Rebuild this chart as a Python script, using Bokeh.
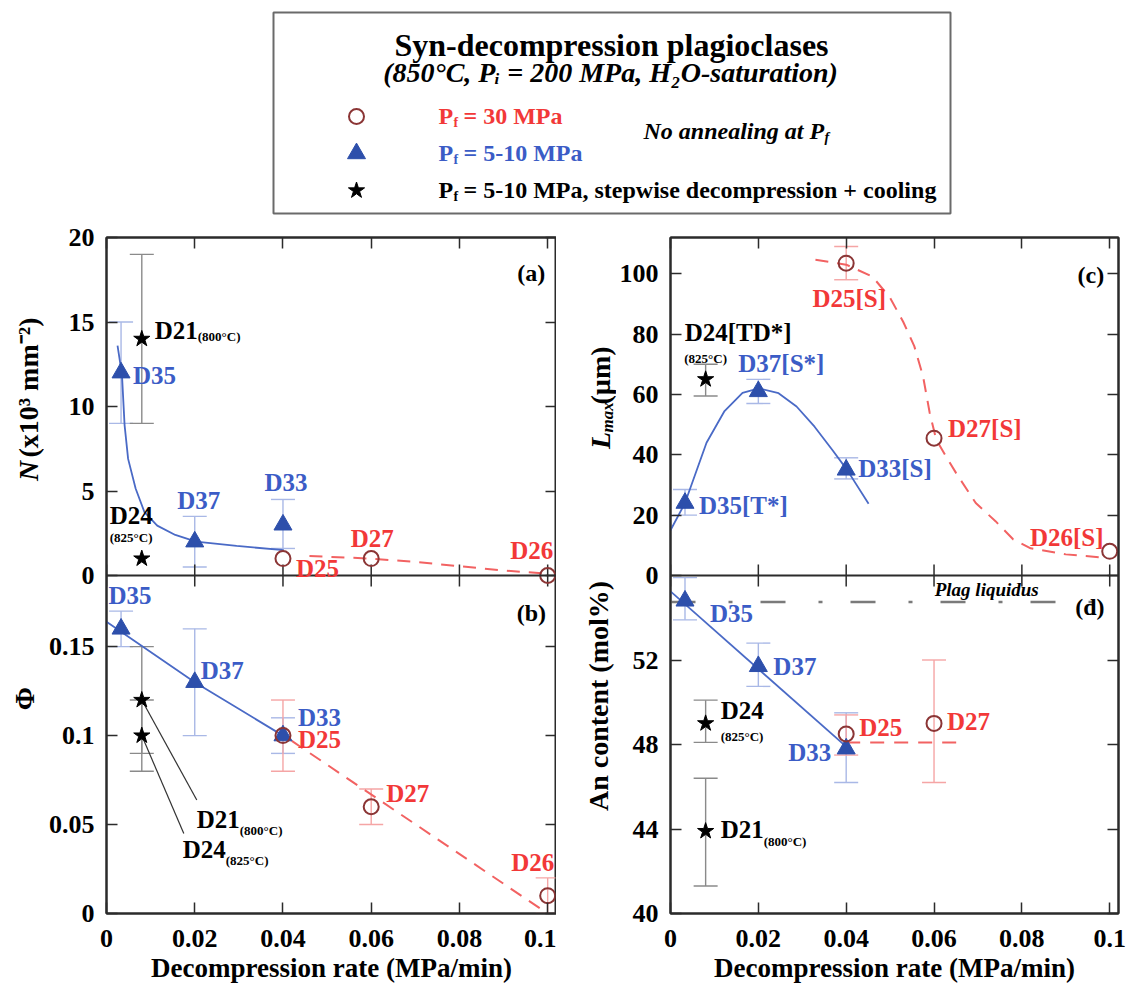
import math
from bokeh.plotting import figure
from bokeh.models import (Range1d, LinearAxis, FixedTicker, CustomJSTickFormatter,
                          ColumnDataSource, Whisker, TeeHead, Label, Span)
from bokeh.layouts import column, row
from bokeh.embed import file_html
from bokeh.resources import INLINE
from bokeh.core.properties import value

# ---------------------------------------------------------------- data
tri_names = ["D35", "D37", "D33"]          # Pf = 5-10 MPa
tri_rate = [0.0033, 0.02, 0.04]
circ_names = ["D25", "D27", "D26"]         # Pf = 30 MPa
circ_rate = [0.04, 0.06, 0.1]
star_names = ["D21", "D24"]                # stepwise decompression + cooling
star_rate = [0.008, 0.008]

x_ticks = [0, 0.02, 0.04, 0.06, 0.08, 0.1]

# (a) N (x10^3 mm^-2)
N_tri = [12.0, 2.0, 3.0]
N_tri_lo = [9.0, 0.5, 1.6]
N_tri_hi = [15.0, 3.5, 4.5]
N_circ = [1.0, 1.0, 0.0]
N_star = [14.0, 1.0]
N_star_err_rate = [0.008]
N_star_lo = [9.0]
N_star_hi = [19.0]
N_fit_tri_x = [0.0025, 0.0035, 0.0041, 0.0049, 0.0066, 0.0086, 0.0115, 0.0156, 0.0203, 0.0295, 0.0402]
N_fit_tri_y = [13.6, 11.9, 8.9, 6.9, 5.15, 3.75, 2.95, 2.4, 2.0, 1.75, 1.5]
N_fit_circ_x = [0.046, 0.06, 0.07, 0.08, 0.09, 0.1]
N_fit_circ_y = [1.15, 1.0, 0.8, 0.55, 0.3, 0.1]
N_ticks = [0, 5, 10, 15, 20]

# (b) Phi
phi_tri = [0.16, 0.13, 0.10]
phi_tri_lo = [0.15, 0.10, 0.09]
phi_tri_hi = [0.17, 0.16, 0.11]
phi_circ = [0.10, 0.06, 0.01]
phi_circ_lo = [0.08, 0.05, 0.0]
phi_circ_hi = [0.12, 0.07, 0.02]
phi_star = [0.12, 0.10]
phi_star_lo = [0.09, 0.08]
phi_star_hi = [0.15, 0.12]
phi_fit_tri_x = [0.0, 0.02, 0.04]
phi_fit_tri_y = [0.164, 0.130, 0.100]
phi_fit_circ_x = [0.042, 0.1]
phi_fit_circ_y = [0.097, 0.0]
phi_ticks = [0, 0.05, 0.1, 0.15]

# (c) Lmax (um)
L_tri = [24.0, 61.0, 35.0]
L_tri_lo = [20.0, 57.0, 32.0]
L_tri_hi = [28.5, 65.0, 39.0]
L_circ = [103.5, 45.5, 8.0]
L_circ_err_rate = [0.04]
L_circ_lo = [98.0]
L_circ_hi = [109.0]
L_star_rate = [0.008]                       # D24 only
L_star = [65.0]
L_star_lo = [59.5]
L_star_hi = [70.0]
L_fit_tri_x = [0.0, 0.0033, 0.0082, 0.0123, 0.0164, 0.0201, 0.0246, 0.0287, 0.0328, 0.0369, 0.0402, 0.0451]
L_fit_tri_y = [15.0, 24.0, 44.0, 54.5, 60.5, 62.0, 60.4, 56.0, 49.3, 41.5, 35.0, 23.8]
L_fit_circ_x = [0.033, 0.04, 0.046, 0.05, 0.053, 0.0555, 0.0575, 0.059, 0.0605, 0.0625,
                0.065, 0.0695, 0.074, 0.078, 0.082, 0.09, 0.098]
L_fit_circ_y = [104.6, 103.0, 99.0, 92.0, 84.0, 76.0, 66.0, 54.0, 45.0, 40.0,
                34.0, 24.0, 18.0, 12.0, 9.0, 7.0, 6.0]
L_ticks = [0, 20, 40, 60, 80, 100]

# (d) An content (mol%)
An_tri = [54.8, 51.7, 47.8]
An_tri_lo = [53.9, 50.75, 46.2]
An_tri_hi = [55.9, 52.8, 49.5]
An_circ_rate = [0.04, 0.06]                 # D25, D27
An_circ = [48.5, 49.0]
An_circ_lo = [47.5, 46.2]
An_circ_hi = [49.4, 52.0]
An_star = [43.9, 49.0]                      # D21, D24
An_star_lo = [41.3, 48.1]
An_star_hi = [46.4, 50.1]
An_fit_tri_x = [0.0, 0.04]
An_fit_tri_y = [55.25, 47.9]
An_fit_circ_x = [0.04, 0.067]
An_fit_circ_y = [48.1, 48.1]
An_liquidus_x = [0.0, 0.1]
An_liquidus_y = [54.75, 54.75]
An_ticks = [40, 44, 48, 52]

# axis extents
XMAX = 0.102
N_TOP = 20.0
PHI_TOP = 0.19
L_TOP = 112.0
AN_BOT, AN_TOP = 40.0, 56.0

# ---------------------------------------------------------------- style
SERIF = "Liberation Serif"
FRAME = "#2b2b2b"
BLUE_M = "#2d4fab"
BLUE_T = "#3b5cc6"
BLUE_L = "#4a6ac6"
BLUE_E = "#a9b8e6"
RED_T = "#f23838"
RED_L = "#f26262"
RED_E = "#f5a5a5"
CIRC = "#8b3535"
BLACK_E = "#8a8a8a"
GRAY = "#7a7a7a"

LEG_H = 215
H_FIG = 992 - LEG_H
MB_TOP, MB_BOT = 22, 79
FRAME_W = 450
HALF = (H_FIG - MB_TOP - MB_BOT) / 2
PXX = XMAX / FRAME_W
V = math.pi / 2

STRIP_L = 44
STRIP_R = 60
MBL_L = 62
MBL_R = 52


def style_axis(ax, ticks, labels, formatter=None):
    ax.ticker = FixedTicker(ticks=ticks)
    ax.major_tick_in = 11
    ax.major_tick_out = 0
    ax.minor_tick_in = 0
    ax.minor_tick_out = 0
    ax.axis_line_color = FRAME
    ax.axis_line_width = 2
    ax.major_tick_line_color = FRAME
    ax.major_tick_line_width = 1.5
    if labels:
        ax.formatter = formatter or CustomJSTickFormatter(code="return String(tick);")
        ax.major_label_text_font = SERIF
        ax.major_label_text_font_size = "26px"
        ax.major_label_text_font_style = "bold"
        ax.major_label_text_color = "black"
        ax.major_label_standoff = 12
    else:
        ax.formatter = CustomJSTickFormatter(code="return '';")
        ax.major_label_text_font_size = "0px"
        ax.major_label_standoff = 0


def split_formatter(split, scale):
    # ticks above `split` belong to the upper panel, whose range is scaled by `scale`
    return CustomJSTickFormatter(args=dict(split=split, scale=scale), code="""
        if (tick >= split - 1e-9) {
            return String(Math.round((tick - split) * scale * 1e6) / 1e6);
        }
        return String(Math.round(tick * 1e6) / 1e6);
    """)


def column_fig(width, mbl, mbr, lower, upper_name, upper_top, lower_ticks, upper_ticks):
    lo, split = lower
    span = split - lo
    p = figure(width=width, height=H_FIG, x_range=Range1d(0, XMAX),
               y_range=Range1d(lo, split + span),
               output_backend="svg", toolbar_location=None,
               min_border_left=mbl, min_border_right=mbr,
               min_border_top=MB_TOP, min_border_bottom=MB_BOT)
    p.extra_y_ranges = {upper_name: Range1d(-upper_top, upper_top)}
    p.xgrid.visible = False
    p.ygrid.visible = False
    p.outline_line_color = FRAME
    p.outline_line_width = 2
    p.background_fill_color = "white"
    p.border_fill_color = "white"
    scale = upper_top / span
    yt = list(lower_ticks) + [split + v / scale for v in upper_ticks]
    style_axis(p.below[0], x_ticks, True)
    ax = p.below[0]
    ax.axis_label = "Decompression rate (MPa/min)"
    ax.axis_label_text_font = SERIF
    ax.axis_label_text_font_size = "27px"
    ax.axis_label_text_font_style = "bold"
    ax.axis_label_text_color = "black"
    ax.axis_label_standoff = 3
    ax.major_label_standoff = 16
    style_axis(p.left[0], yt, True, split_formatter(split, scale))
    top = LinearAxis()
    style_axis(top, x_ticks, False)
    p.add_layout(top, "above")
    rgt = LinearAxis()
    style_axis(rgt, yt, False)
    p.add_layout(rgt, "right")
    # boundary between the two stacked panels, with inward ticks on both sides
    p.add_layout(Span(location=split, dimension="width", line_color=FRAME, line_width=2))
    p.scatter(x_ticks, [split] * len(x_ticks), marker="dash", angle=V, size=22,
              line_color=FRAME, line_width=1.5)
    return p


def errbars(p, xs, lo, hi, color, yr="default"):
    src = ColumnDataSource(dict(x=xs, lo=lo, hi=hi))
    p.add_layout(Whisker(base="x", lower="lo", upper="hi", source=src, y_range_name=yr,
                         line_color=color, line_width=1.4,
                         upper_head=TeeHead(size=24, line_color=color, line_width=1.4),
                         lower_head=TeeHead(size=24, line_color=color, line_width=1.4)))


def markers(p, xs, ys, kind, yr="default"):
    if kind == "tri":
        p.scatter(xs, ys, marker="triangle", size=18, fill_color=BLUE_M, line_color=BLUE_M,
                  y_range_name=yr)
    elif kind == "circ":
        p.scatter(xs, ys, marker="circle", size=15, fill_color=None, line_color=CIRC,
                  line_width=2, y_range_name=yr)
    else:
        p.scatter(xs, ys, marker="star", size=17, fill_color="black", line_color="black",
                  y_range_name=yr)


def lab(p, x, y, text, dx=0, dy=0, color="black", align="left", size=25,
        style="bold", yr="default"):
    p.add_layout(Label(x=x, y=y, x_offset=dx, y_offset=dy, text=text, text_color=color,
                       text_font=SERIF, text_font_size=f"{size}px", text_font_style=style,
                       text_align=align, text_baseline="middle", y_range_name=yr))


def blue_fit(p, xs, ys, yr="default"):
    p.line(xs, ys, line_color=BLUE_L, line_width=1.8, y_range_name=yr)


def red_fit(p, xs, ys, dash="13 9", yr="default"):
    p.line(xs, ys, line_color=RED_L, line_width=2, line_dash=dash, y_range_name=yr)


# ================================================================ left column: (a) over (b)
pL = column_fig(MBL_L + FRAME_W, MBL_L, 0, (0.0, PHI_TOP), "a", N_TOP, phi_ticks, N_ticks)
PYB = PHI_TOP / HALF

# ---- (a)
blue_fit(pL, N_fit_tri_x, N_fit_tri_y, yr="a")
red_fit(pL, N_fit_circ_x, N_fit_circ_y, yr="a")
errbars(pL, tri_rate, N_tri_lo, N_tri_hi, BLUE_E, yr="a")
errbars(pL, N_star_err_rate, N_star_lo, N_star_hi, BLACK_E, yr="a")
markers(pL, tri_rate, N_tri, "tri", yr="a")
markers(pL, circ_rate, N_circ, "circ", yr="a")
markers(pL, star_rate, N_star, "star", yr="a")
for x, y, t, dx, dy, c, al, s in [
        (tri_rate[0], N_tri[0], tri_names[0], 12, -3, BLUE_T, "left", 25),
        (tri_rate[1], N_tri[1], tri_names[1], 4, 41, BLUE_T, "center", 25),
        (tri_rate[2], N_tri[2], tri_names[2], 3, 42, BLUE_T, "center", 25),
        (circ_rate[0], N_circ[0], circ_names[0], 13, -10, RED_T, "left", 25),
        (circ_rate[1], N_circ[1], circ_names[1], 1, 20, RED_T, "center", 25),
        (circ_rate[2], N_circ[2], circ_names[2], -16, 25, RED_T, "center", 25),
        (star_rate[0], N_star[0], star_names[0], 13, 8, "black", "left", 25),
        (star_rate[0], N_star[0], "(800°C)", 56, 2, "black", "left", 13),
        (star_rate[1], N_star[1], star_names[1], -32, 43, "black", "left", 25),
        (star_rate[1], N_star[1], "(825°C)", -32, 21, "black", "left", 13)]:
    lab(pL, x, y, t, dx, dy, c, al, s, yr="a")
lab(pL, 0.0963, 17.9, "(a)", align="center", size=24, yr="a")

# ---- (b)
blue_fit(pL, phi_fit_tri_x, phi_fit_tri_y)
red_fit(pL, phi_fit_circ_x, phi_fit_circ_y)
errbars(pL, tri_rate, phi_tri_lo, phi_tri_hi, BLUE_E)
errbars(pL, circ_rate, phi_circ_lo, phi_circ_hi, RED_E)
errbars(pL, star_rate, phi_star_lo, phi_star_hi, BLACK_E)
lead = [(55, -100), (42, -98)]   # leader line ends, in px from each star
pL.segment(x0=star_rate, y0=phi_star,
           x1=[star_rate[i] + lead[i][0] * PXX for i in range(2)],
           y1=[phi_star[i] + lead[i][1] * PYB for i in range(2)],
           line_color="#333333", line_width=1.2)
markers(pL, tri_rate, phi_tri, "tri")
markers(pL, circ_rate, phi_circ, "circ")
markers(pL, star_rate, phi_star, "star")
for x, y, t, dx, dy, c, al, s in [
        (tri_rate[0], phi_tri[0], tri_names[0], 9, 33, BLUE_T, "center", 25),
        (tri_rate[1], phi_tri[1], tri_names[1], 6, 12, BLUE_T, "left", 25),
        (tri_rate[2], phi_tri[2], tri_names[2], 15, 18, BLUE_T, "left", 25),
        (circ_rate[0], phi_circ[0], circ_names[0], 15, -4, RED_T, "left", 25),
        (circ_rate[1], phi_circ[1], circ_names[1], 15, 13, RED_T, "left", 25),
        (circ_rate[2], phi_circ[2], circ_names[2], -15, 33, RED_T, "center", 25),
        (star_rate[0], phi_star[0], star_names[0], 55, -119, "black", "left", 25),
        (star_rate[0], phi_star[0], "(800°C)", 98, -130, "black", "left", 13),
        (star_rate[1], phi_star[1], star_names[1], 41, -114, "black", "left", 25),
        (star_rate[1], phi_star[1], "(825°C)", 84, -125, "black", "left", 13)]:
    lab(pL, x, y, t, dx, dy, c, al, s)
lab(pL, 0.0963, 0.169, "(b)", align="center", size=24)

# ================================================================ right column: (c) over (d)
pR = column_fig(MBL_R + FRAME_W + 12, MBL_R, 12, (AN_BOT, AN_TOP), "c", L_TOP, An_ticks, L_ticks)

# ---- (c)
blue_fit(pR, L_fit_tri_x, L_fit_tri_y, yr="c")
red_fit(pR, L_fit_circ_x, L_fit_circ_y, yr="c")
errbars(pR, tri_rate, L_tri_lo, L_tri_hi, BLUE_E, yr="c")
errbars(pR, L_circ_err_rate, L_circ_lo, L_circ_hi, RED_E, yr="c")
errbars(pR, L_star_rate, L_star_lo, L_star_hi, BLACK_E, yr="c")
markers(pR, tri_rate, L_tri, "tri", yr="c")
markers(pR, circ_rate, L_circ, "circ", yr="c")
markers(pR, L_star_rate, L_star, "star", yr="c")
for x, y, t, dx, dy, c, al, s in [
        (circ_rate[0], L_circ[0], "D25[S]", 3, -35, RED_T, "center", 25),
        (circ_rate[1], L_circ[1], "D27[S]", 14, 10, RED_T, "left", 25),
        (circ_rate[2], L_circ[2], "D26[S]", -43, 14, RED_T, "center", 25),
        (tri_rate[0], L_tri[0], "D35[T*]", 14, -2, BLUE_T, "left", 25),
        (tri_rate[1], L_tri[1], "D37[S*]", 23, 28, BLUE_T, "center", 25),
        (tri_rate[2], L_tri[2], "D33[S]", 12, 1, BLUE_T, "left", 25),
        (L_star_rate[0], L_star[0], "D24[TD*]", -21, 47, "black", "left", 25),
        (L_star_rate[0], L_star[0], "(825°C)", 0, 21, "black", "center", 13)]:
    lab(pR, x, y, t, dx, dy, c, al, s, yr="c")
lab(pR, 0.0957, 99.6, "(c)", align="center", size=24, yr="c")

# ---- (d)
pR.line(An_liquidus_x, An_liquidus_y, line_color=GRAY, line_width=2.5, line_dash="25 33 4 28")
blue_fit(pR, An_fit_tri_x, An_fit_tri_y)
red_fit(pR, An_fit_circ_x, An_fit_circ_y, dash="14 10")
errbars(pR, tri_rate, An_tri_lo, An_tri_hi, BLUE_E)
errbars(pR, An_circ_rate, An_circ_lo, An_circ_hi, RED_E)
errbars(pR, star_rate, An_star_lo, An_star_hi, BLACK_E)
markers(pR, tri_rate, An_tri, "tri")
markers(pR, An_circ_rate, An_circ, "circ")
markers(pR, star_rate, An_star, "star")
for x, y, t, dx, dy, c, al, s in [
        (tri_rate[0], An_tri[0], tri_names[0], 25, -13, BLUE_T, "left", 25),
        (tri_rate[1], An_tri[1], tri_names[1], 15, 0, BLUE_T, "left", 25),
        (tri_rate[2], An_tri[2], tri_names[2], -15, -4, BLUE_T, "right", 25),
        (An_circ_rate[0], An_circ[0], circ_names[0], 13, 6, RED_T, "left", 25),
        (An_circ_rate[1], An_circ[1], circ_names[1], 13, 2, RED_T, "left", 25),
        (star_rate[1], An_star[1], star_names[1], 15, 13, "black", "left", 25),
        (star_rate[1], An_star[1], "(825°C)", 15, -13, "black", "left", 13),
        (star_rate[0], An_star[0], star_names[0], 15, 2, "black", "left", 25),
        (star_rate[0], An_star[0], "(800°C)", 58, -10, "black", "left", 13)]:
    lab(pR, x, y, t, dx, dy, c, al, s)
lab(pR, 0.0955, 54.5, "(d)", align="center", size=24)
lab(pR, 0.072, 55.35, "Plag liquidus", align="center", size=19, style="bold italic")


# ================================================================ y-axis title strips
def strip(width, items):
    s = figure(width=width, height=H_FIG, x_range=Range1d(0, width), y_range=Range1d(0, H_FIG),
               x_axis_type=None, y_axis_type=None, min_border=0,
               toolbar_location=None, output_backend="svg")
    s.outline_line_color = None
    s.background_fill_color = "white"
    s.border_fill_color = "white"
    for x, page_y, txt, size, style, align, dx in items:
        s.text(x=[x], y=[992 - page_y], text=[txt], angle=V, x_offset=dx,
               text_font=value(SERIF), text_font_size=value(f"{size}px"),
               text_font_style=style, text_align=align, text_baseline="middle",
               text_color="black")
    return s


sL = strip(STRIP_L, [(28, 495, "N", 28, "bold italic", "left", 0),
                     (28, 468, "(x10³ mm⁻²)", 28, "bold", "left", 0),
                     (24, 745, "Φ", 28, "bold", "center", 0)])
sR = strip(STRIP_R, [(44, 458, "L", 28, "bold italic", "left", 0),
                     (44, 439, "max", 17, "bold italic", "left", 7),
                     (44, 407, "(µm)", 28, "bold", "left", 0),
                     (42, 742, "An content (mol%)", 28, "bold", "center", 0)])

# ================================================================ legend box
W_ALL = STRIP_L + MBL_L + FRAME_W + STRIP_R + MBL_R + FRAME_W + 12
leg = figure(width=W_ALL, height=LEG_H, x_range=Range1d(0, W_ALL), y_range=Range1d(LEG_H, 0),
             x_axis_type=None, y_axis_type=None, output_backend="svg", toolbar_location=None,
             min_border=0)
leg.outline_line_color = None
leg.background_fill_color = "white"
leg.border_fill_color = "white"
leg.quad(left=[273], right=[950], top=[12], bottom=[213], fill_color=None,
         line_color="#6a6a6a", line_width=2)
lab(leg, 611, 44, "Syn-decompression plagioclases", align="center", size=32)
lab(leg, 610, 72, "(850°C, Pᵢ = 200 MPa, H₂O-saturation)", align="center", size=28,
    style="bold italic")
legend_rows = [("circ", "= 30 MPa", RED_T, 115),
               ("tri", "= 5-10 MPa", BLUE_T, 152),
               ("star", "= 5-10 MPa, stepwise decompression + cooling", "black", 189)]
for kind, txt, col, yy in legend_rows:
    markers(leg, [356], [yy + 1], kind)
    lab(leg, 438, yy, "P", color=col, size=24)
    lab(leg, 453, yy, "f", dy=-7, color=col, size=14)
    lab(leg, 463, yy, txt, color=col, size=24)
lab(leg, 643, 130, "No annealing at P", size=24, style="bold italic")
lab(leg, 824, 130, "f", dy=-7, size=14, style="bold italic")

layout = column(leg, row(sL, pL, sR, pR))
open("out.html", "w").write(file_html(layout, INLINE))
